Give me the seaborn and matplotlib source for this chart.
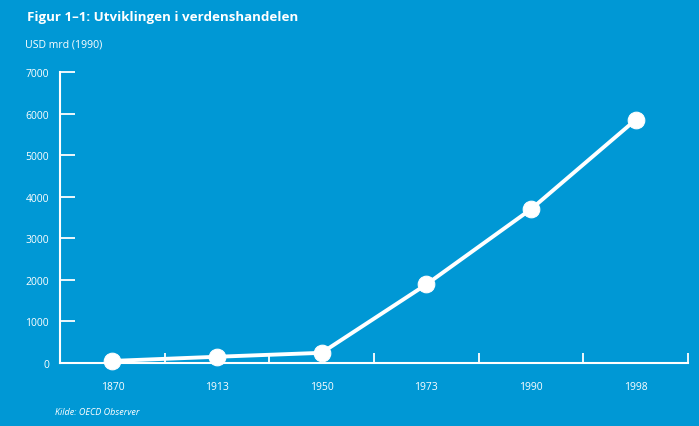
import pandas as pd
import seaborn as sns
import matplotlib.pyplot as plt
from matplotlib.ticker import FixedLocator

years = ["1870", "1913", "1950", "1973", "1990", "1998"]
trade = [50, 150, 245, 1890, 3700, 5850]
yticks = [0, 1000, 2000, 3000, 4000, 5000, 6000, 7000]

df = pd.DataFrame({"year": years, "trade": trade})
df["pos"] = range(len(years))

bg = "#0098d5"
sns.set_theme(style="white")
plt.rcParams["font.family"] = ["Open Sans", "DejaVu Sans"]

fig = plt.figure(figsize=(6.99, 4.27), dpi=100, facecolor=bg)
ax = fig.add_axes([60 / 699, 1 - 364 / 427, 628 / 699, 291 / 427])
ax.set_facecolor(bg)

sns.lineplot(data=df, x="pos", y="trade", ax=ax, color="white", linewidth=2.8,
             marker="o", markersize=12, markeredgecolor="white", clip_on=False, zorder=5)

ax.set_xlim(-0.5, len(years) - 0.5)
ax.set_ylim(0, 7000)
ax.set_xticks(df["pos"])
ax.set_xticklabels(years)
ax.xaxis.set_minor_locator(FixedLocator([i - 0.5 for i in range(len(years) + 1)]))
ax.tick_params(axis="x", which="major", length=0, pad=13, labelsize=7.5, colors="white")
ax.tick_params(axis="x", which="minor", direction="in", length=7, width=1.3, color="white", bottom=True)
ax.set_yticks(yticks)
ax.tick_params(axis="y", direction="in", length=11, width=1.3, color="white", pad=8,
               labelsize=7.5, labelcolor="white", left=True)
for s in ["top", "right"]:
    ax.spines[s].set_visible(False)
for s in ["left", "bottom"]:
    ax.spines[s].set_color("white")
    ax.spines[s].set_linewidth(1.5)
ax.set_xlabel("")
ax.set_ylabel("")

fig.text(27 / 699, 1 - 17 / 427, "Figur 1–1: Utviklingen i verdenshandelen", color="white",
         fontsize=9.6, fontweight="bold", va="center")
fig.text(25 / 699, 1 - 45 / 427, "USD mrd (1990)", color="white", fontsize=7.6, va="center")
fig.text(55 / 699, 1 - 413 / 427, "Kilde: OECD Observer", color="white", fontsize=6.5,
         style="italic", va="center")

fig.savefig("out.png", dpi=100, facecolor=bg)
